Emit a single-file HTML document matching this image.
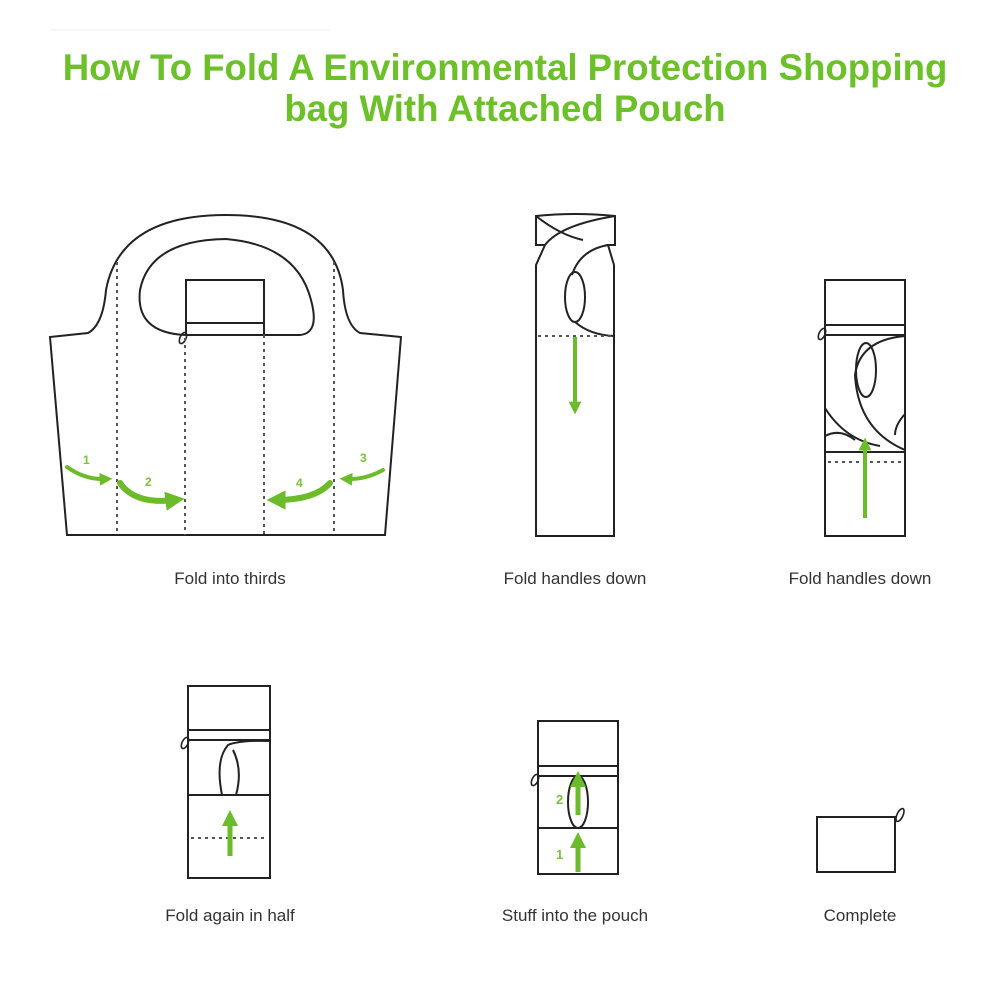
<!DOCTYPE html>
<html><head><meta charset="utf-8"><style>
html,body{margin:0;padding:0;background:#fff;}
svg{display:block}
</style></head><body>
<svg width="1000" height="1000" viewBox="0 0 1000 1000" xmlns="http://www.w3.org/2000/svg" font-family="Liberation Sans, sans-serif">
<defs>
<marker id="ah" viewBox="0 0 10 10" refX="5" refY="5" markerWidth="3.2" markerHeight="3.2" orient="auto-start-reverse"><path d="M0,0 L10,5 L0,10 z" fill="#6cbb2a"/></marker>
</defs>
<line x1="50" y1="30" x2="330" y2="30" stroke="#eee" stroke-width="1"/>
<text x="505" y="80" text-anchor="middle" font-size="36.6" font-weight="bold" fill="#6cc02a">How To Fold A Environmental Protection Shopping</text>
<text x="505" y="121" text-anchor="middle" font-size="36.6" font-weight="bold" fill="#6cc02a">bag With Attached Pouch</text>

<g fill="none" stroke="#222" stroke-width="2">
<path d="M50,337 L67,535 L385,535 L401,337 L360,333 Q345,325 343,290 Q333,215 226,215 Q120,215 106,290 Q103,325 88,333 Z"/>
<path d="M186,335 L300,335 Q320,333 311,300 Q297,245 226,239 Q150,240 140,290 Q135,333 186,335 Z"/>
<rect x="186" y="280" width="78" height="43"/>
<line x1="186" y1="323" x2="186" y2="335"/><line x1="264" y1="323" x2="264" y2="335"/>
<ellipse cx="183" cy="338" rx="3" ry="6" transform="rotate(25 183 338)" stroke-width="1.6"/>
</g>
<g stroke="#555" stroke-width="2" stroke-dasharray="3,4">
<line x1="117" y1="262" x2="117" y2="535"/><line x1="185" y1="338" x2="185" y2="535"/>
<line x1="264" y1="335" x2="264" y2="535"/><line x1="334" y1="262" x2="334" y2="535"/>
</g>
<g fill="none" stroke="#6cbb2a" stroke-width="4" stroke-linecap="round">
<path d="M67,467 Q85,480 106,479" marker-end="url(#ah)"/>
<path d="M120,483 Q135,505 175,500" stroke-width="6" marker-end="url(#ah)"/>
<path d="M383,470 Q365,480 346,479" marker-end="url(#ah)"/>
<path d="M330,483 Q315,500 276,500" stroke-width="6" marker-end="url(#ah)"/>
</g>
<g font-size="12" fill="#7cc040" font-weight="bold">
<text x="83" y="464">1</text><text x="145" y="486">2</text><text x="296" y="487">4</text><text x="360" y="462">3</text>
</g>

<g fill="none" stroke="#222" stroke-width="2">
<path d="M536,536 L536,265 L545,245 L536,245 L536,216 Q575,212 615,216 L615,245 L608,245 L614,265 L614,536 Z"/>
<path d="M545,245 Q560,225 615,216"/>
<path d="M536,216 Q560,235 583,240"/>
<path d="M608,245 Q580,250 572,275"/>
<ellipse cx="575" cy="297" rx="10" ry="25"/>
<path d="M575,322 Q590,335 614,336"/>
</g>
<line x1="538" y1="336" x2="612" y2="336" stroke="#555" stroke-width="2" stroke-dasharray="3,4"/>
<line x1="575" y1="337" x2="575" y2="408" stroke="#6cbb2a" stroke-width="4" marker-end="url(#ah)"/>
<text x="575" y="584" text-anchor="middle" font-size="17" fill="#333">Fold handles down</text>

<g fill="none" stroke="#222" stroke-width="2">
<rect x="825" y="280" width="80" height="256"/>
<line x1="825" y1="325" x2="905" y2="325"/><line x1="825" y1="335" x2="905" y2="335"/>
<line x1="825" y1="452" x2="905" y2="452"/>
<ellipse cx="866" cy="370" rx="10" ry="27"/>
<path d="M905,336 Q860,340 855,375 Q858,430 905,450"/>
<path d="M825,408 Q845,440 880,446"/>
<path d="M825,436 Q840,428 855,440"/><path d="M905,414 Q895,425 895,435"/>
<ellipse cx="822" cy="334" rx="3" ry="6" transform="rotate(25 822 334)" stroke-width="1.6"/>
</g>
<line x1="828" y1="462" x2="903" y2="462" stroke="#555" stroke-width="2" stroke-dasharray="3,4"/>
<line x1="865" y1="518" x2="865" y2="444" stroke="#6cbb2a" stroke-width="4" marker-end="url(#ah)"/>
<text x="860" y="584" text-anchor="middle" font-size="17" fill="#333">Fold handles down</text>
<text x="230" y="584" text-anchor="middle" font-size="17" fill="#333">Fold into thirds</text>

<g fill="none" stroke="#222" stroke-width="2">
<rect x="188" y="686" width="82" height="192"/>
<line x1="188" y1="730" x2="270" y2="730"/><line x1="188" y1="740" x2="270" y2="740"/>
<line x1="188" y1="795" x2="270" y2="795"/>
<path d="M222,795 Q215,760 228,745 Q240,740 270,741"/>
<path d="M236,795 Q243,770 233,750"/>
<ellipse cx="185" cy="743" rx="3" ry="6" transform="rotate(25 185 743)" stroke-width="1.6"/>
</g>
<line x1="191" y1="838" x2="267" y2="838" stroke="#555" stroke-width="2" stroke-dasharray="3,4"/>
<line x1="230" y1="856" x2="230" y2="818" stroke="#6cbb2a" stroke-width="5" marker-end="url(#ah)"/>
<text x="230" y="921" text-anchor="middle" font-size="17" fill="#333">Fold again in half</text>

<g fill="none" stroke="#222" stroke-width="2">
<rect x="538" y="721" width="80" height="153"/>
<line x1="538" y1="766" x2="618" y2="766"/><line x1="538" y1="776" x2="618" y2="776"/>
<line x1="538" y1="828" x2="618" y2="828"/>
<ellipse cx="578" cy="802" rx="10" ry="26"/>
<ellipse cx="535" cy="780" rx="3" ry="6" transform="rotate(25 535 780)" stroke-width="1.6"/>
</g>
<line x1="578" y1="872" x2="578" y2="840" stroke="#6cbb2a" stroke-width="5" marker-end="url(#ah)"/>
<line x1="578" y1="815" x2="578" y2="779" stroke="#6cbb2a" stroke-width="5" marker-end="url(#ah)"/>
<text x="556" y="804" font-size="13" fill="#7cc040" font-weight="bold">2</text>
<text x="556" y="859" font-size="13" fill="#7cc040" font-weight="bold">1</text>
<text x="575" y="921" text-anchor="middle" font-size="17" fill="#333">Stuff into the pouch</text>

<g fill="none" stroke="#222" stroke-width="2">
<rect x="817" y="817" width="78" height="55"/>
<ellipse cx="900" cy="815" rx="3" ry="7" transform="rotate(25 900 815)" stroke-width="1.6"/>
</g>
<text x="860" y="921" text-anchor="middle" font-size="17" fill="#333">Complete</text>
</svg>
</body></html>
